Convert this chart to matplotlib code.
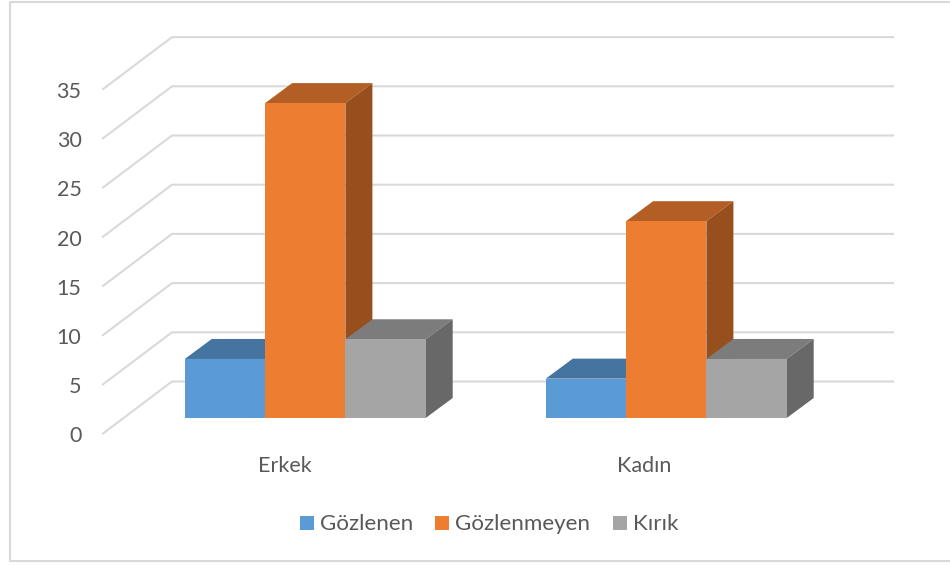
import matplotlib
matplotlib.use('Agg')
import matplotlib.pyplot as plt
from matplotlib.patches import Polygon, Rectangle

categories=['Erkek','Kadın']
series_names=['Gözlenen','Gözlenmeyen','Kırık']
gozlenen=[6,4]
gozlenmeyen=[32,20]
kirik=[8,6]
ticks=[0,5,10,15,20,25,30,35]

front_colors=['#5B9BD5','#ED7D31','#A5A5A5']
top_colors=['#44749F','#B25E25','#7C7C7C']
side_colors=['#375E81','#964F1D','#686868']
grid_color='#D9D9D9'
text_color='#595959'

W,H=950,565
plt.rcParams['font.family']=['Lato','DejaVu Sans']

# axes runs in screen pixels, y pointing down
fig=plt.figure(figsize=(W/100,H/100),dpi=100)
ax=fig.add_axes([0,0,1,1])
ax.set_xlim(0,W)
ax.set_ylim(H,0)
ax.axis('off')

wall_x0,wall_x1=172,893
wall_y0=381.5
unit=9.84
floor_dx,floor_dy=-69,52
front_y=418
depth_dx,depth_dy=27,-20
bar_w=80.3
group_left=[184.8,545.8]
cat_label_x=[284.5,644.5]

def wall_y(v):
    return wall_y0-v*unit

# chart frame, only left, top and bottom show
ax.plot([950,9.5,9.5,950],[1.5,1.5,560.5,560.5],color=grid_color,lw=1.5,zorder=1)

for t in ticks:
    y=wall_y(t)
    ax.plot([wall_x0+floor_dx,wall_x0,wall_x1],[y+floor_dy,y,y],color=grid_color,lw=1.5,zorder=2,solid_joinstyle='miter')
    ax.text(81.5,y+61,str(t),ha='right',va='baseline',fontsize=15.5,color=text_color)

def draw_bar(x,v,i):
    h=v*unit
    x1=x+bar_w
    top=front_y-h
    ax.add_patch(Polygon([(x,top),(x1,top),(x1+depth_dx,top+depth_dy),(x+depth_dx,top+depth_dy)],
                         closed=True,fc=top_colors[i],ec='none',zorder=3))
    ax.add_patch(Polygon([(x1,top),(x1+depth_dx,top+depth_dy),(x1+depth_dx,front_y+depth_dy),(x1,front_y)],
                         closed=True,fc=side_colors[i],ec='none',zorder=3))
    ax.add_patch(Rectangle((x,top),bar_w,h,fc=front_colors[i],ec='none',zorder=4))

for g,name in enumerate(categories):
    for i,vals in enumerate([gozlenen,gozlenmeyen,kirik]):
        draw_bar(group_left[g]+i*bar_w,vals[g],i)
    ax.text(cat_label_x[g],471.5,name,ha='center',va='baseline',fontsize=15.5,color=text_color)

# legend
swatch_x=[300,435,613]
label_x=[320,455,633]
for sx,lx,name,c in zip(swatch_x,label_x,series_names,front_colors):
    ax.add_patch(Rectangle((sx,516),14,14,fc=c,ec='none'))
    ax.text(lx,530,name,ha='left',va='baseline',fontsize=16.1,color=text_color)

fig.savefig('out.png',dpi=100)
